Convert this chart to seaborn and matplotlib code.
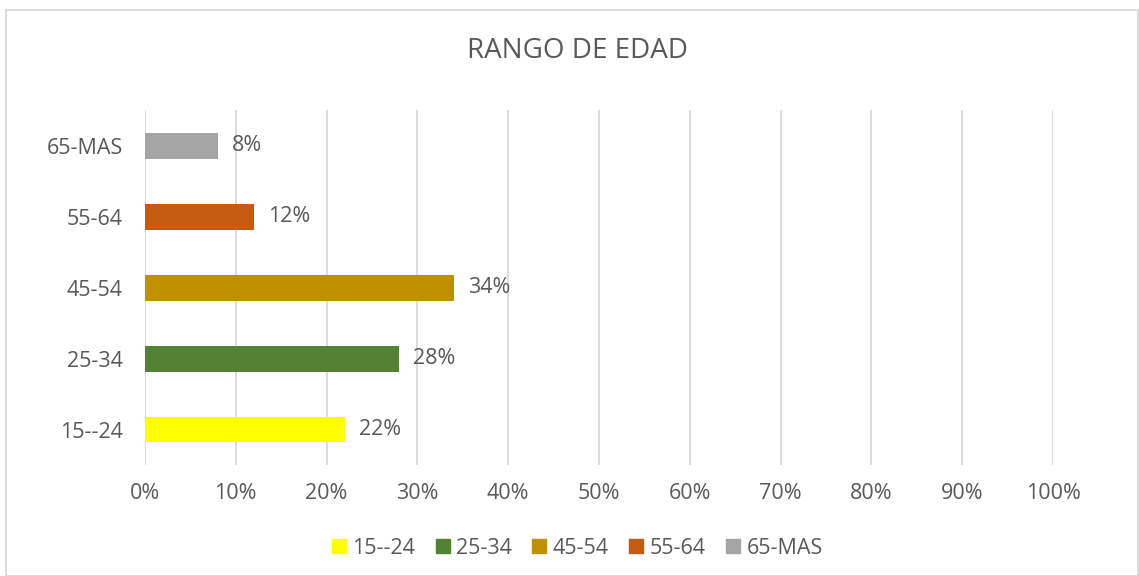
import matplotlib
matplotlib.use("Agg")
import matplotlib.pyplot as plt
import seaborn as sns
import pandas as pd
from matplotlib.ticker import PercentFormatter

categories = ["15--24", "25-34", "45-54", "55-64", "65-MAS"]
values = [0.22, 0.28, 0.34, 0.12, 0.08]
colors = ["#FFFF00", "#548235", "#BF9000", "#C55A11", "#A5A5A5"]
x_ticks = [i / 10 for i in range(11)]

sns.set_theme(style="white")
plt.rcParams["font.family"] = ["Open Sans", "DejaVu Sans"]
text_color = "#595959"
fs = 15.5

df = pd.DataFrame({"cat": categories, "val": values})

fig = plt.figure(figsize=(11.39, 5.76), dpi=100)
ax = fig.add_axes([0.1273, 0.1927, 0.9245 - 0.1273, 0.809 - 0.1927])

order = categories[::-1]
sns.barplot(data=df, y="cat", x="val", hue="cat", order=order,
            hue_order=categories, palette=colors, dodge=False, saturation=1,
            width=0.366, orient="h", ax=ax, legend=True, linewidth=0)

ax.set_xlim(0, 1)
ax.set_xticks(x_ticks)
ax.xaxis.set_major_formatter(PercentFormatter(1.0, decimals=0))
ax.grid(axis="x", color="#D9D9D9", linewidth=1.3)
ax.set_axisbelow(True)
for s in ax.spines.values():
    s.set_visible(False)
ax.set_xlabel("")
ax.set_ylabel("")
ax.tick_params(axis="both", length=0, labelsize=fs, colors=text_color)
ax.tick_params(axis="x", pad=13)
ax.tick_params(axis="y", pad=16)

for cont in ax.containers:
    ax.bar_label(cont, labels=[f"{v*100:.0f}%" for v in cont.datavalues],
                 padding=10, fontsize=fs, color=text_color)

ax.legend_.remove()
handles = [plt.Rectangle((0, 0), 1, 1, color=c) for c in colors]
fig.legend(handles, categories, loc="center", bbox_to_anchor=(0.507, 0.048),
           ncol=5, frameon=False, fontsize=fs, labelcolor=text_color,
           handlelength=0.65, handleheight=0.65, handletextpad=0.3,
           columnspacing=0.95)

fig.text(0.507, 0.912, "RANGO DE EDAD", ha="center", va="center",
         fontsize=20, color=text_color)

border = plt.Rectangle((0.005, 0.0), 0.994, 0.982, transform=fig.transFigure,
                       fill=False, edgecolor="#D9D9D9", linewidth=1.3)
fig.patches.append(border)

fig.savefig("out.png", dpi=100)
